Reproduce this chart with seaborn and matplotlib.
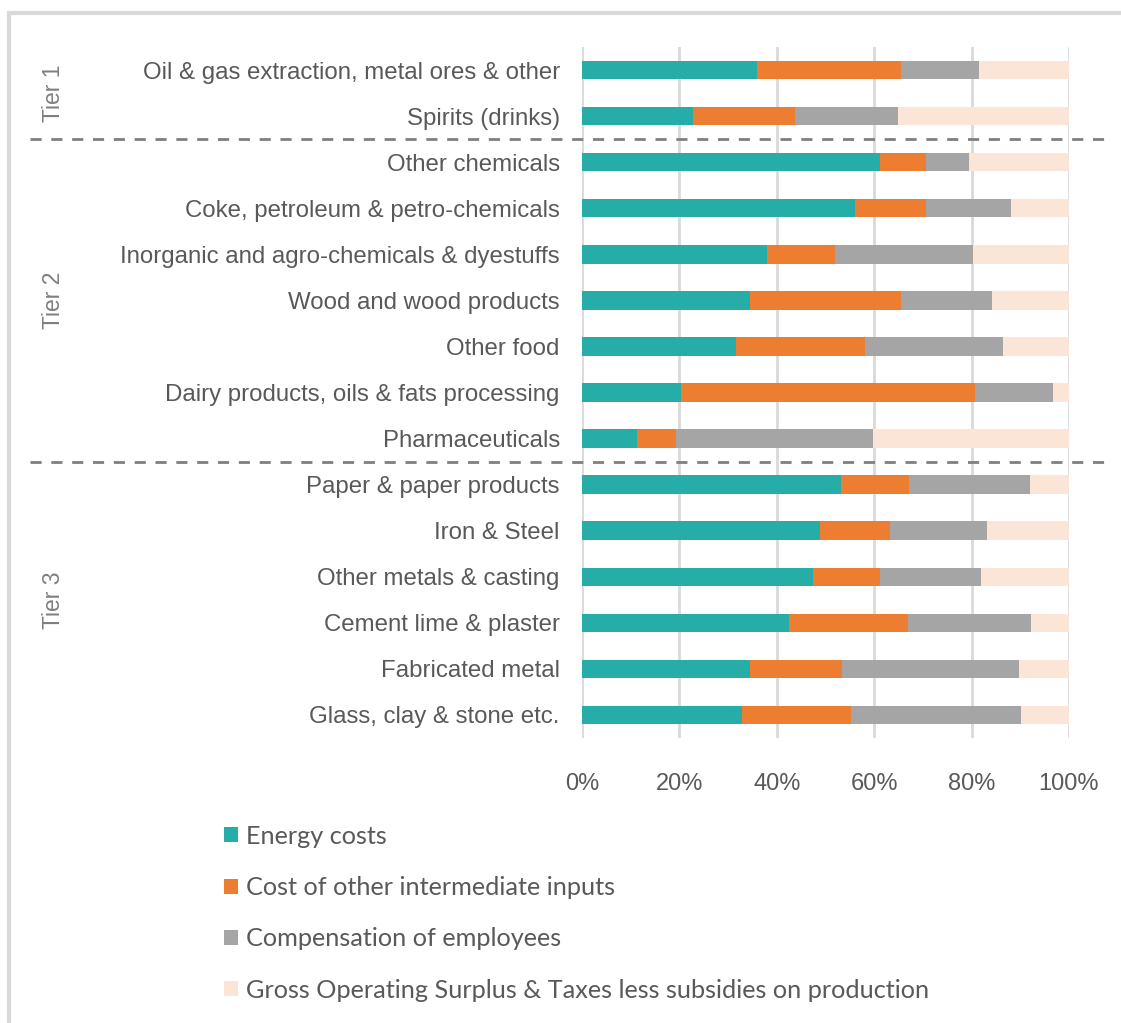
import matplotlib
matplotlib.use("Agg")
import matplotlib.pyplot as plt
import matplotlib.patches as mpatches
import matplotlib.transforms as mtransforms
import seaborn as sns
import numpy as np
import pandas as pd

# Cost structure by industry (% of gross output)
categories = [
    "Oil & gas extraction, metal ores & other",
    "Spirits (drinks)",
    "Other chemicals",
    "Coke, petroleum & petro-chemicals",
    "Inorganic and agro-chemicals & dyestuffs",
    "Wood and wood products",
    "Other food",
    "Dairy products, oils & fats processing",
    "Pharmaceuticals",
    "Paper & paper products",
    "Iron & Steel",
    "Other metals & casting",
    "Cement lime & plaster",
    "Fabricated metal",
    "Glass, clay & stone etc.",
]
energy = [35.9, 22.8, 61.2, 56.1, 38.0, 34.4, 31.7, 20.3, 11.2, 53.1, 48.9, 47.4, 42.6, 34.4, 32.9]
intermediate = [29.6, 21.0, 9.4, 14.5, 13.9, 31.1, 26.5, 60.4, 8.2, 14.1, 14.4, 13.8, 24.3, 19.0, 22.3]
employees = [16.1, 21.0, 8.9, 17.4, 28.3, 18.6, 28.3, 16.0, 40.3, 24.7, 19.9, 20.8, 25.3, 36.4, 34.9]
surplus = [18.4, 35.2, 20.5, 12.0, 19.8, 15.9, 13.5, 3.3, 40.3, 8.1, 16.8, 18.0, 7.8, 10.2, 9.9]

series_names = [
    "Energy costs",
    "Cost of other intermediate inputs",
    "Compensation of employees",
    "Gross Operating Surplus & Taxes less subsidies on production",
]
colors = ["#27ADA7", "#ED7D31", "#A5A5A5", "#FBE5D6"]

tiers = ["Tier 1", "Tier 2", "Tier 3"]
tier_sizes = [2, 7, 6]

df = pd.DataFrame({
    "category": categories,
    series_names[0]: energy,
    series_names[1]: intermediate,
    series_names[2]: employees,
    series_names[3]: surplus,
})
cum = df[series_names].cumsum(axis=1)

sns.set_theme(style="white")
plt.rcParams["font.family"] = ["Liberation Sans", "DejaVu Sans"]

W, H = 1121, 1023
fig = plt.figure(figsize=(W / 100, H / 100), dpi=100)
ax = fig.add_axes([582 / W, 1 - 738 / H, (1069 - 582) / W, (738 - 47) / H])

# stacked bars: draw the cumulative totals from the outermost segment inward
for name, col in reversed(list(zip(series_names, colors))):
    sns.barplot(x=cum[name], y=df["category"], orient="h", color=col,
                width=0.4, saturation=1, ax=ax, zorder=3, linewidth=0)

ax.set_xlim(0, 100)
ax.set_ylim(len(categories) - 0.5, -0.5)
ax.set_xticks(np.arange(0, 101, 20))
ax.set_xticklabels([f"{v}%" for v in range(0, 101, 20)])
ax.xaxis.grid(True, color="#D9D9D9", linewidth=2, zorder=0)
ax.set_axisbelow(True)
for s in ax.spines.values():
    s.set_visible(False)
ax.set_xlabel("")
ax.set_ylabel("")
ax.tick_params(axis="x", length=0, pad=25, labelsize=17, labelcolor="#595959")
ax.tick_params(axis="y", length=0, pad=16, labelsize=17.3, labelcolor="#595959")

# tier separators and labels
trans = mtransforms.blended_transform_factory(fig.transFigure, ax.transData)
start = 0
for i, (tier, n) in enumerate(zip(tiers, tier_sizes)):
    mid = start + (n - 1) / 2
    fig.text(54 / W, mid, tier, rotation=90, ha="center", va="center",
             color="#7F7F7F", fontsize=16.5, transform=trans)
    if i < len(tiers) - 1:
        y = start + n - 0.5
        ax.plot([30 / W, 1105 / W], [y, y], transform=trans, clip_on=False,
                color="#7F7F7F", linewidth=2, dashes=(4, 3.5), zorder=4)
    start += n

# outer frame
fig.patches.append(mpatches.Rectangle((9 / W, -0.1), 1.2, 1 - 13 / H + 0.1,
                                      transform=fig.transFigure, fill=False,
                                      edgecolor="#D9D9D9", linewidth=3))

# legend
handles = [mpatches.Patch(facecolor=c, edgecolor="none") for c in colors]
leg = fig.legend(handles, series_names, loc="upper left",
                 bbox_to_anchor=(201 / W, 1 - 802 / H), frameon=False,
                 prop={"family": ["Lato", "DejaVu Sans"], "size": 18.2},
                 labelcolor="#595959", handlelength=0.55, handleheight=0.55,
                 handletextpad=0.35, labelspacing=1.12)

fig.savefig("out.png", dpi=100)
